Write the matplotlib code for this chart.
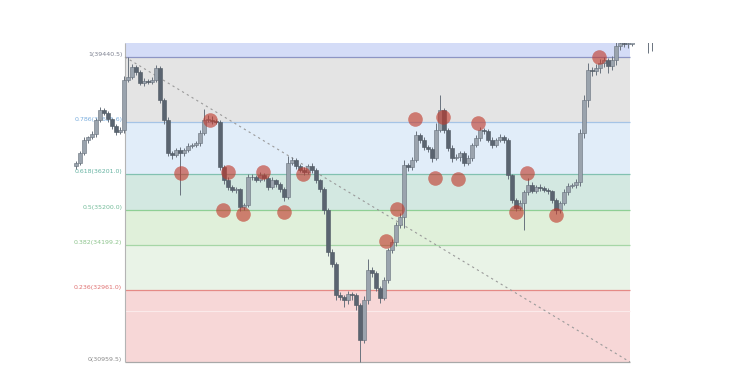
import numpy as np
import matplotlib; matplotlib.use("Agg")
import matplotlib.pyplot as plt

# candle closes (price) left to right
closes = [36493, 36771, 37133, 37216, 37299, 37689, 37967, 37883, 37716, 37522,
          37355, 37411, 38801, 38884, 39163, 39024, 38718, 38773, 38745, 38801,
          39135, 38245, 37689, 36771, 36716, 36855, 36771, 36855, 36966, 36994,
          37049, 37327, 37689, 37700, 37661, 37633, 36382, 36020, 35826, 35742,
          35760, 35270, 35325, 36104, 36090, 36020, 36159, 36076, 35826, 36020,
          35909, 35770, 35548, 36493, 36577, 36410, 36298, 36243, 36410, 36298,
          36020, 35770, 35186, 34018, 33685, 32823, 32767, 32684, 32850, 32823,
          32545, 31571, 32684, 33518, 33434, 33017, 32739, 33240, 34074, 34296,
          34769, 34991, 36437, 36382, 36577, 37272, 37133, 36938, 36882, 36632,
          37411, 37967, 37411, 36910, 36632, 36660, 36771, 36493, 36632, 36994,
          37188, 37411, 37383, 37133, 36994, 37133, 37216, 37133, 36159, 35464,
          35242, 35381, 35687, 35881, 35715, 35826, 35810, 35742, 35715, 35464,
          35186, 35381, 35687, 35854, 35881, 35965, 37327, 38245, 39079, 39051,
          39135, 39274, 39357, 39190, 39357, 39746, 39830, 39802, 39802, 40000,
          40050, 40100, 40150, 40100, 40050, 40000]
upper_wick = [60, 50, 70, 40, 80, 60, 90, 50, 60, 40,
              50, 70, 100, 557, 80, 60, 50, 70, 60, 80,
              90, 60, 50, 70, 60, 50, 80, 60, 70, 50,
              60, 80, 300, 120, 90, 60, 50, 60, 70, 50,
              60, 40, 60, 90, 70, 60, 80, 50, 60, 70,
              40, 60, 50, 200, 80, 60, 50, 70, 60, 80,
              50, 40, 60, 50, 70, 60, 80, 50, 90, 60,
              50, 60, 120, 300, 80, 60, 50, 70, 60, 80,
              90, 120, 150, 60, 80, 120, 60, 70, 50, 60,
              200, 417, 60, 50, 70, 80, 60, 50, 70, 60,
              80, 90, 60, 50, 70, 60, 80, 50, 60, 40,
              50, 70, 60, 200, 80, 60, 70, 50, 60, 40,
              50, 60, 70, 90, 60, 80, 100, 150, 200, 80,
              100, 120, 90, 60, 120, 100, 150, 100, 80, 100,
              100, 100, 100, 100, 100, 100]
lower_wick = [70, 60, 50, 80, 60, 70, 50, 60, 80, 70,
              90, 60, 80, 60, 50, 70, 60, 80, 50, 60,
              60, 80, 100, 90, 120, 60, 1167, 70, 60, 50,
              60, 70, 50, 60, 80, 60, 90, 120, 70, 60,
              80, 100, 90, 60, 70, 50, 60, 80, 90, 60,
              70, 80, 120, 60, 50, 70, 60, 80, 60, 70,
              80, 90, 120, 100, 80, 150, 90, 200, 120, 150,
              150, 612, 80, 120, 100, 90, 140, 60, 90, 70,
              120, 80, 300, 100, 70, 60, 80, 70, 90, 120,
              60, 50, 70, 80, 120, 60, 100, 80, 60, 70,
              60, 70, 80, 60, 70, 50, 60, 80, 100, 90,
              70, 60, 750, 80, 60, 70, 90, 60, 80, 90,
              120, 70, 60, 80, 60, 70, 100, 150, 200, 150,
              120, 150, 100, 200, 120, 150, 100, 80, 100, 60,
              100, 50, 50, 540, 450, 50]

# fibonacci retracement: swing high -> swing low
fib_high, fib_low = 39440.5, 30959.5
fib_x0, fib_x1 = 12.25, 138.5
ratios = [1, 0.786, 0.618, 0.5, 0.382, 0.236, 0]
level_labels = ["1(39440.5)", "0.786(37625.6)", "0.618(36201.0)", "0.5(35200.0)",
                "0.382(34199.2)", "0.236(32961.0)", "0(30959.5)"]
line_colors = ["#8d95c4", "#a5c4e6", "#82c1b1", "#8fcf95", "#a6d6a6", "#e58a86", "#a8a8a8"]
text_colors = ["#7d8190", "#7aaede", "#66b3a2", "#74bc9a", "#8cc48c", "#e07272", "#8a8a8a"]
band_colors = ["#e4e4e4", "#e1edf9", "#d3e8e1", "#e0f0da", "#e9f3e7", "#f7d7d7"]
top_band = "#d4dcf7"

# touch points (candle index, price)
touch_x = [33.5, 26.25, 38.0, 36.75, 41.75, 46.75, 52.0, 56.75, 77.5, 80.25,
           84.75, 89.75, 91.75, 95.5, 100.5, 110.0, 112.75, 120.0, 130.75]
touch_y = [37689, 36215, 36243, 35186, 35075, 36243, 35131, 36187, 34324, 35214,
           37716, 36076, 37772, 36048, 37605, 35131, 36215, 35047, 39441]


def fig_fib():
    fig = plt.figure(figsize=(7.53, 3.84), dpi=100)
    ax = fig.add_axes([70/753, 1-365/384, 620/753, 322/384])
    ax.set_xlim(-1.5, 153.5); ax.set_ylim(30876, 39830); ax.axis("off")

    levels = [fib_low + r*(fib_high-fib_low) for r in ratios]
    ax.fill_between([fib_x0, fib_x1], levels[0], 39830, color=top_band, lw=0, zorder=0)
    for i, c in enumerate(band_colors):
        ax.fill_between([fib_x0, fib_x1], levels[i+1], levels[i], color=c, lw=0, zorder=0)
    ax.hlines(32378, fib_x0, fib_x1, color="#fbeaea", lw=0.8, zorder=0.5)
    for lv, lc, tc, lab in zip(levels, line_colors, text_colors, level_labels):
        ax.hlines(lv, fib_x0, fib_x1, color=lc, lw=0.9, zorder=1)
        ax.annotate(lab, (fib_x0, lv), xytext=(-2, 0), textcoords="offset points",
                    ha="right", va="bottom", fontsize=4.5, color=tc)
    ax.vlines(fib_x0, fib_low, 39830, color="#b4b4b4", lw=0.8, zorder=1)
    ax.plot([fib_x0, fib_x1], [fib_high, fib_low], ls=(0, (2, 3)), color="#9a9a9a", lw=0.8, zorder=2)

    # candles
    c = np.array(closes, float)
    o = np.r_[36400.0, c[:-1]]
    hi = np.maximum(o, c) + np.array(upper_wick)
    lo = np.minimum(o, c) - np.array(lower_wick)
    x = np.arange(len(c))
    up = c >= o
    ax.vlines(x, lo, hi, color="#6a737e", lw=0.7, zorder=3)
    body = np.maximum(np.abs(c-o), 25)
    ax.bar(x[up], body[up], 0.8, bottom=np.minimum(o, c)[up], color="#9aa3ad",
           edgecolor="#66707b", lw=0.4, zorder=4)
    ax.bar(x[~up], body[~up], 0.8, bottom=np.minimum(o, c)[~up], color="#5a6470",
           edgecolor="#4e5862", lw=0.4, zorder=4)

    ax.plot(touch_x, touch_y, "o", ms=10.5, color="#c0392b", alpha=0.62, mew=0, zorder=5)
    fig.savefig("out.png", dpi=100); plt.close(fig)


if __name__ == "__main__":
    fig_fib()
